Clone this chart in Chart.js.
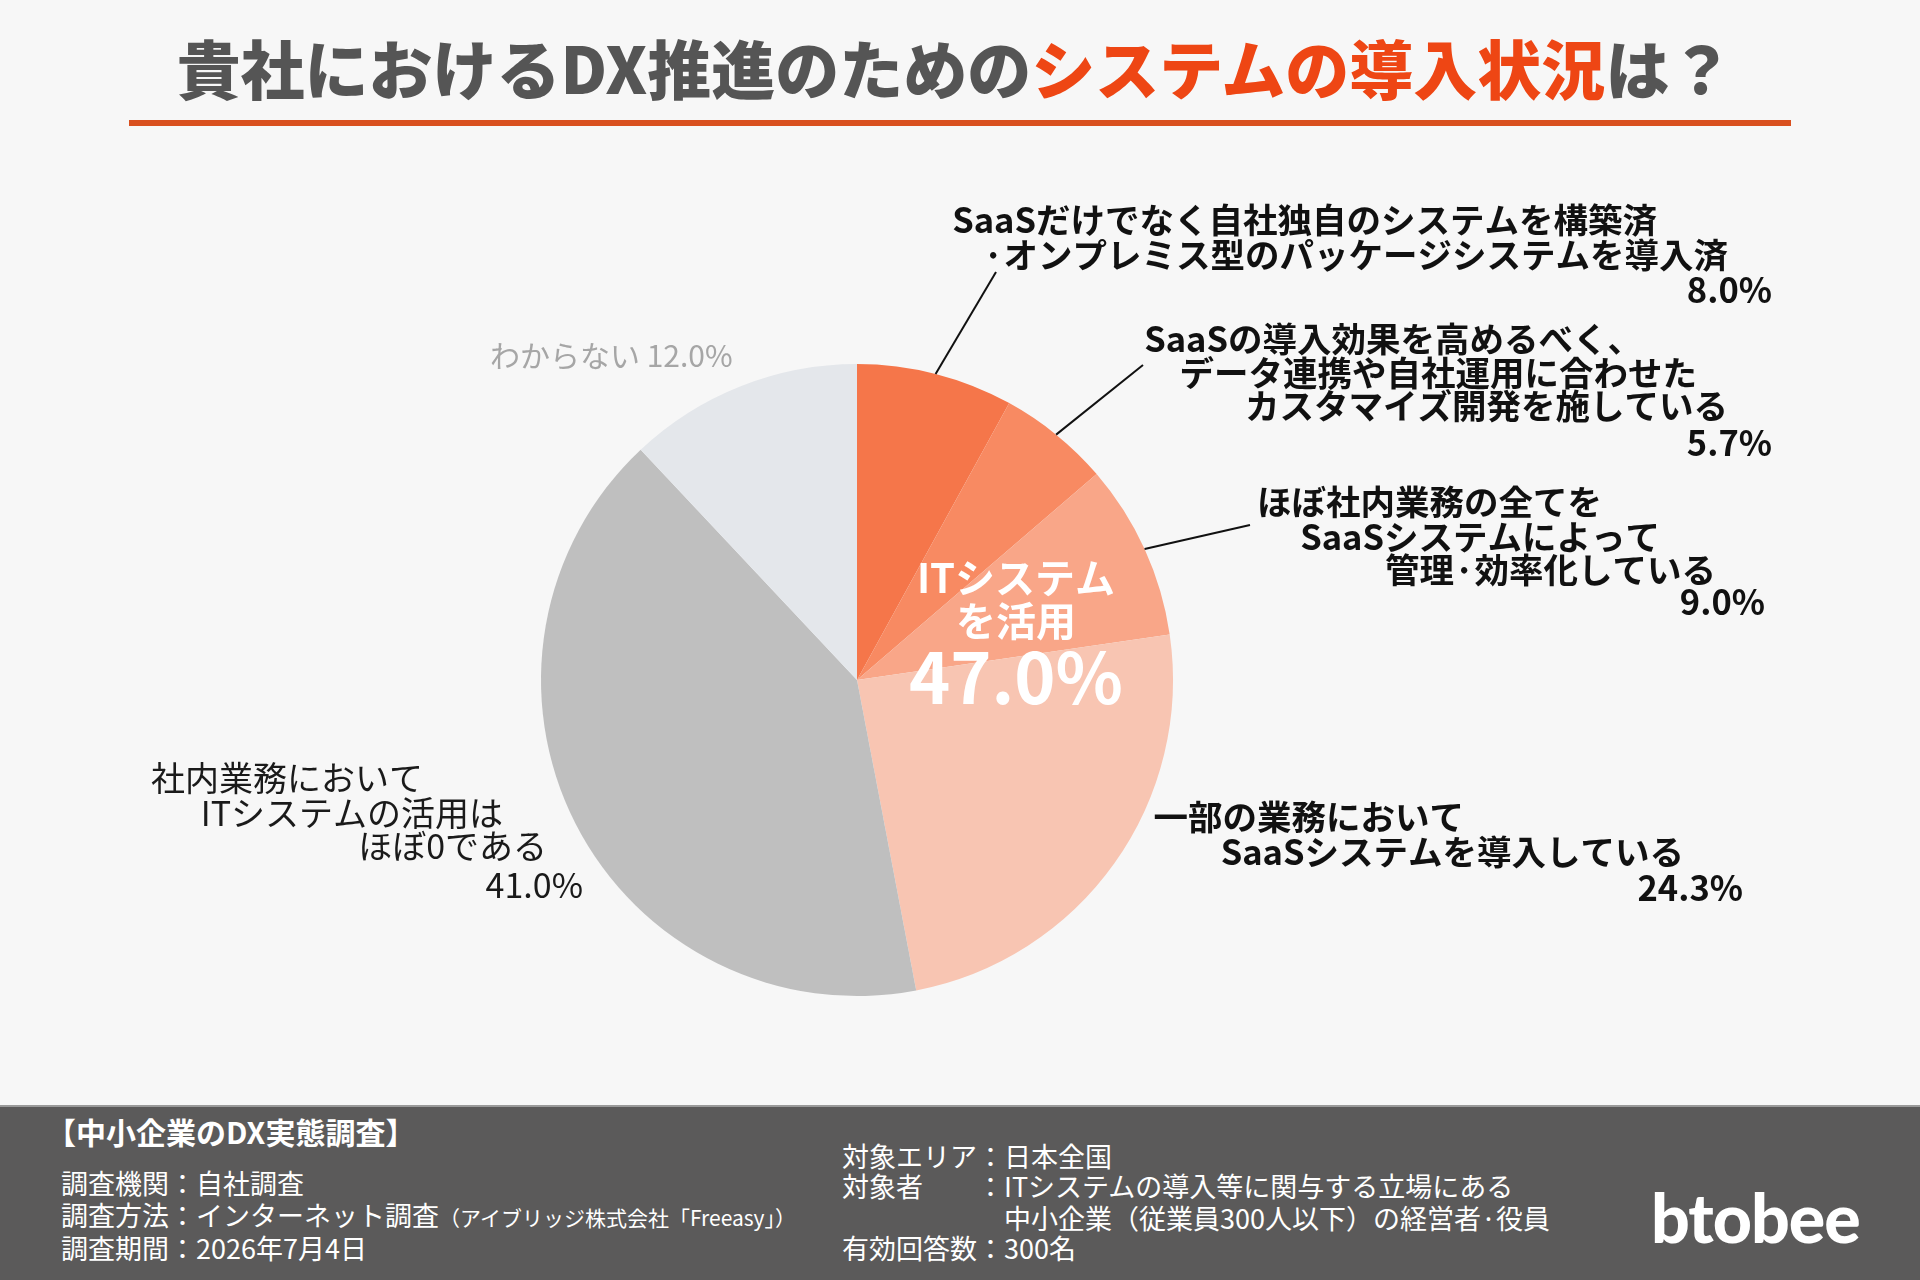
<!DOCTYPE html>
<html lang="ja">
<head>
<meta charset="utf-8">
<script src="https://cdn.jsdelivr.net/npm/chart.js@4.4.1/dist/chart.umd.min.js"></script>
<style>
  html, body { margin: 0; padding: 0; }
  body { width: 1920px; height: 1280px; background: #f7f7f7; position: relative; overflow: hidden;
         font-family: "Noto Sans CJK JP", "Noto Sans", sans-serif; }
  #wrap { position: absolute; left: 0; top: 0; width: 1920px; height: 1280px; }
  #title { position: absolute; left: 0; width: 1910px; top: 26px; height: 80px; line-height: 80px;
           text-align: center; font-size: 64px; font-weight: 900; color: #555555; white-space: nowrap; }
  #title .hl { color: #ee4614; }
  #rule { position: absolute; left: 129px; top: 120px; width: 1662px; height: 6px; background: #d9501f; }
  #footer { position: absolute; left: 0; top: 1105px; width: 1920px; height: 175px; background: #5b5a5a;
            border-top: 2px solid #9a9a9a; box-sizing: border-box; color: #ffffff; }
  .ft { position: absolute; font-size: 27px; line-height: 32px; height: 32px; white-space: nowrap; }
  .ft small { font-size: 21px; }
  #logo { position: absolute; left: 1651px; top: 73px; font-family: Lato, "Noto Sans", sans-serif;
          font-weight: 900; font-size: 68px; line-height: 74px; letter-spacing: -1px; color: #fff; }
</style>
</head>
<body>
<div id="wrap"><canvas id="c" width="1920" height="1280"></canvas></div>
<div id="title">貴社におけるDX推進のための<span class="hl">システムの導入状況</span>は？</div>
<div id="rule"></div>
<div id="footer">
  <div class="ft" style="left:46px; top:8px; font-size:30px; font-weight:700;">【中小企業のDX実態調査】</div>
  <div class="ft" style="left:61px; top:60px;">調査機関：自社調査</div>
  <div class="ft" style="left:61px; top:92px;">調査方法：インターネット調査<small>（アイブリッジ株式会社「Freeasy」）</small></div>
  <div class="ft" style="left:61px; top:125px;">調査期間：2026年7月4日</div>
  <div class="ft" style="left:842px; top:33px;">対象エリア：日本全国</div>
  <div class="ft" style="left:842px; top:63px;">対象者　　：ITシステムの導入等に関与する立場にある</div>
  <div class="ft" style="left:1004px; top:95px;">中小企業（従業員300人以下）の経営者·役員</div>
  <div class="ft" style="left:842px; top:125px;">有効回答数：300名</div>
  <div id="logo">btobee</div>
</div>
<script>
// ---- data ----
const categories = [
  "SaaSだけでなく自社独自のシステムを構築済·オンプレミス型のパッケージシステムを導入済",
  "SaaSの導入効果を高めるべく、データ連携や自社運用に合わせたカスタマイズ開発を施している",
  "ほぼ社内業務の全てをSaaSシステムによって管理·効率化している",
  "一部の業務においてSaaSシステムを導入している",
  "社内業務においてITシステムの活用はほぼ0である",
  "わからない"
];
const labelLines = [
  ["SaaSだけでなく自社独自のシステムを構築済", "·オンプレミス型のパッケージシステムを導入済"],
  ["SaaSの導入効果を高めるべく、", "データ連携や自社運用に合わせた", "カスタマイズ開発を施している"],
  ["ほぼ社内業務の全てを", "SaaSシステムによって", "管理·効率化している"],
  ["一部の業務において", "SaaSシステムを導入している"],
  ["社内業務において", "ITシステムの活用は", "ほぼ0である"],
  ["わからない"]
];
const values = [8.0, 5.7, 9.0, 24.3, 41.0, 12.0];
const centerLines = ["ITシステム", "を活用"];
const itGroupCount = 4;

// ---- styles / layout ----
const sliceColors = ["#f5764a", "#f88a62", "#f9a688", "#f8c5b2", "#bfbfbf", "#e4e7eb"];
const labelLayout = [
  { bold: true, color: "#111", size: 34.5, rights: [1657, 1728], ys: [220, 255], pctRight: 1772, pctY: 290, lead: [996, 272] },
  { bold: true, color: "#111", size: 34.5, rights: [1642, 1697, 1728], ys: [339, 373, 406], pctRight: 1772, pctY: 443, lead: [1143, 365] },
  { bold: true, color: "#111", size: 34.5, rights: [1602, 1660, 1716], ys: [502, 537, 570], pctRight: 1765, pctY: 602, lead: [1250, 525] },
  { bold: true, color: "#111", size: 34.5, rights: [1464, 1684], ys: [817, 852], pctRight: 1743, pctY: 888, lead: null },
  { bold: false, color: "#1a1a1a", size: 34, rights: [423, 503, 547], ys: [778, 813, 846], pctRight: 583, pctY: 885, lead: null },
  { bold: false, color: "#a6a6a6", size: 30, inline: true, left: 490, y: 356, lead: null }
];
const FONT = '"Noto Sans CJK JP", "Noto Sans", sans-serif';

const labelPlugin = {
  id: 'labels',
  afterDatasetsDraw(chart) {
    const ctx = chart.ctx;
    const meta = chart.getDatasetMeta(0);
    ctx.save();
    // leader lines
    meta.data.forEach((arc, i) => {
      const L = labelLayout[i];
      if (!L.lead) return;
      const p = arc.getProps(['x', 'y', 'startAngle', 'endAngle', 'outerRadius'], true);
      const mid = (p.startAngle + p.endAngle) / 2;
      const sx = p.x + Math.cos(mid) * p.outerRadius;
      const sy = p.y + Math.sin(mid) * p.outerRadius;
      ctx.beginPath();
      ctx.moveTo(sx, sy);
      ctx.lineTo(L.lead[0], L.lead[1]);
      ctx.strokeStyle = '#111';
      ctx.lineWidth = 2;
      ctx.stroke();
    });
    // labels
    ctx.textBaseline = 'middle';
    values.forEach((v, i) => {
      const L = labelLayout[i];
      const pct = v.toFixed(1) + '%';
      ctx.fillStyle = L.color;
      ctx.font = (L.bold ? '700 ' : '400 ') + L.size + 'px ' + FONT;
      if (L.inline) {
        ctx.textAlign = 'left';
        ctx.fillText(labelLines[i][0] + ' ' + pct, L.left, L.y);
        return;
      }
      ctx.textAlign = 'right';
      labelLines[i].forEach((t, k) => ctx.fillText(t, L.rights[k], L.ys[k]));
      ctx.fillText(pct, L.pctRight, L.pctY);
    });
    // center group label
    const total = values.slice(0, itGroupCount).reduce((a, b) => a + b, 0);
    ctx.fillStyle = '#ffffff';
    ctx.textAlign = 'center';
    ctx.font = '700 40px ' + FONT;
    ctx.fillText(centerLines[0], 1016, 578);
    ctx.fillText(centerLines[1], 1016, 621);
    ctx.font = '700 70px ' + FONT;
    ctx.fillText(total.toFixed(1) + '%', 1016, 677);
    ctx.restore();
  }
};

new Chart(document.getElementById('c'), {
  type: 'pie',
  data: {
    labels: categories,
    datasets: [{
      data: values,
      backgroundColor: sliceColors,
      borderWidth: 0
    }]
  },
  options: {
    responsive: false,
    devicePixelRatio: 1,
    animation: false,
    layout: { padding: { left: 541, top: 364, right: 747, bottom: 284 } },
    plugins: { legend: { display: false }, tooltip: { enabled: false }, title: { display: false } }
  },
  plugins: [labelPlugin]
});
</script>
</body>
</html>
